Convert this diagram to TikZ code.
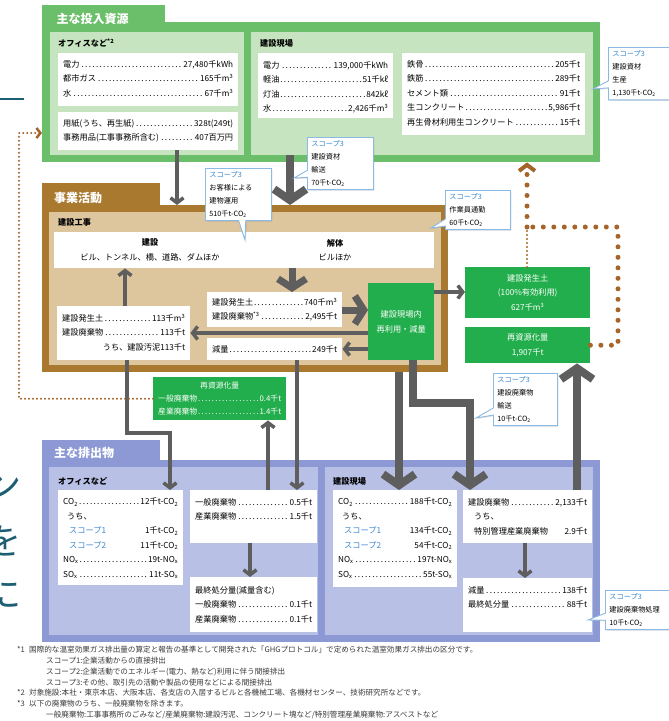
\documentclass[tikz,border=0pt]{standalone}
\usepackage{fontspec}
\setmainfont{Noto Sans CJK JP}
\usetikzlibrary{arrows.meta,shapes.callouts,shadows}
\definecolor{ingreen}{HTML}{6CBF6A}
\definecolor{inlight}{HTML}{C7E4C1}
\definecolor{actgreen}{HTML}{22AE4C}
\definecolor{bizbrown}{HTML}{A8792F}
\definecolor{biztan}{HTML}{DDC69E}
\definecolor{outblue}{HTML}{8C99D5}
\definecolor{outlight}{HTML}{B8C0E6}
\definecolor{flowgray}{HTML}{5E5E5E}
\definecolor{dotbrown}{HTML}{A5652A}
\definecolor{calloutline}{HTML}{8DBAE3}
\definecolor{scopeblue}{HTML}{3C88CF}
\definecolor{edgeteal}{HTML}{1D5E72}
\definecolor{notegray}{HTML}{3A3A3A}
\newcommand\dfont{\fontsize{8.2}{14.5}\selectfont}
\newcommand\cfont{\fontsize{7.2}{13}\selectfont}

\begin{document}
\begin{tikzpicture}[
    x=1pt, y=-1pt, font=\dfont,
    area/.style={inner sep=0pt, anchor=north west},
    tab/.style={area, inner xsep=12pt, text width=94pt, align=left, text=white,
                font=\fontsize{12}{14}\selectfont\bfseries},
    wbox/.style={area, fill=white},
    gbox/.style={area, fill=actgreen, text=white, align=center},
    data/.style={inner sep=0pt, anchor=north west, align=left},
    head/.style={inner sep=0pt, anchor=west, font=\fontsize{8.2}{9}\selectfont\bfseries},
    scope3/.style={rectangle callout, draw=calloutline, line width=0.9pt, fill=white,
                   anchor=north west, align=left, font=\cfont, inner xsep=4pt, inner ysep=3pt,
                   drop shadow={opacity=0.25, shadow xshift=1pt, shadow yshift=-1pt}},
    flow/.style={draw=flowgray, line width=3.5pt, -{Straight Barb[length=5pt, width=13pt]}},
    bigflow/.style={draw=flowgray, line width=8pt, -{Straight Barb[length=11pt, width=32pt]}},
    recycle/.style={draw=dotbrown, line width=2.2pt, line cap=round, dash pattern=on 0pt off 4pt},
    bigrecycle/.style={draw=dotbrown, line width=5pt, line cap=round, dash pattern=on 0pt off 10.5pt},
    pageedge/.style={inner sep=0pt, text=edgeteal, font=\fontsize{36}{36}\selectfont},
]
\useasboundingbox[fill=white] (0,0) rectangle (669,721);
% cut-off letters of the facing page
\draw[edgeteal, line width=2.5pt] (0,99) -- (24,99);
\node[pageedge] (edgen) at (4,486) {ン};
\node[pageedge] (edgewo) at (4,541) {を};
\node[pageedge] (edgeni) at (4,594) {に};

% ---- 主な投入資源 ----
\node[area, fill=ingreen, minimum width=558, minimum height=140] (inframe) at (42,22) {};
\node[tab, fill=ingreen, minimum width=123, minimum height=27] (intab) at (42,5) {主な投入資源};
\node[area, fill=inlight, minimum width=194, minimum height=123] (inoff) at (50,32) {};
\node[area, fill=inlight, minimum width=342, minimum height=123] (insite) at (251,32) {};
\node[head] (inofft) at (58,43) {オフィスなど\textsuperscript{*2}};
\node[head] (insitet) at (260,43) {建設現場};
\node[wbox, minimum width=180, minimum height=53] (inpower) at (58,53) {};
\node[data, text width=170] (inpowert) at (63,60)
    {電力\dotfill 27,480千kWh\\ 都市ガス\dotfill 165千m\textsuperscript{3}\\ 水\dotfill 67千m\textsuperscript{3}};
\node[wbox, minimum width=180, minimum height=38] (inpaper) at (58,112) {};
\node[data, text width=170] (inpapert) at (63,119)
    {用紙(うち、再生紙)\dotfill 328t(249t)\\ 事務用品(工事事務所含む)\dotfill 407百万円};
\node[wbox, minimum width=135, minimum height=65] (inenergy) at (258,53) {};
\node[data, text width=125] (inenergyt) at (263,61)
    {電力\dotfill 139,000千kWh\\ 軽油\dotfill 51千kℓ\\ 灯油\dotfill 842kℓ\\ 水\dotfill 2,426千m\textsuperscript{3}};
\node[wbox, minimum width=183, minimum height=82] (inmat) at (402,53) {};
\node[data, text width=173] (inmatt) at (407,60)
    {鉄骨\dotfill 205千t\\ 鉄筋\dotfill 289千t\\ セメント類\dotfill 91千t\\
     生コンクリート\dotfill 5,986千t\\ 再生骨材利用生コンクリート\dotfill 15千t};

% ---- 事業活動 ----
\node[area, fill=bizbrown, minimum width=406, minimum height=167] (bizframe) at (42,205) {};
\node[tab, fill=bizbrown, minimum width=118, minimum height=29] (biztab) at (42,183) {事業活動};
\node[area, fill=biztan, minimum width=392, minimum height=153] (bizwork) at (49,212) {};
\node[head] (bizworkt) at (58,222) {建設工事};
\node[wbox, minimum width=380, minimum height=36] (worktop) at (54,232) {};
\node[align=center, inner sep=0pt] (buildt) at (150,250) {\textbf{建設}\\ビル、トンネル、橋、道路、ダムほか};
\node[align=center, inner sep=0pt] (demot) at (335,250) {\textbf{解体}\\ビルほか};
\node[wbox, minimum width=135, minimum height=35] (gen) at (207,292) {};
\node[data, text width=125] (gent) at (212,298)
    {建設発生土\dotfill 740千m\textsuperscript{3}\\ 建設廃棄物\textsuperscript{*3}\dotfill 2,495千t};
\node[wbox, minimum width=135, minimum height=22] (reduce) at (207,338) {};
\node[data, text width=125] (reducet) at (212,345) {減量\dotfill 249千t};
\node[wbox, minimum width=133, minimum height=54] (reuse) at (57,306) {};
\node[data, text width=123] (reuset) at (62,314)
    {建設発生土\dotfill 113千m\textsuperscript{3}\\ 建設廃棄物\dotfill 113千t\\ \mbox{}\hfill うち、建設汚泥113千t};
\node[gbox, minimum width=66, minimum height=77] (onsite) at (368,283) {建設現場内\\再利用・減量};
\node[gbox, minimum width=125, minimum height=51] (soil) at (465,267)
    {建設発生土\\(100\%有効利用)\\627千m\textsuperscript{3}};
\node[gbox, minimum width=125, minimum height=36] (recyc) at (465,327) {再資源化量\\1,907千t};
\node[gbox, minimum width=133, minimum height=43, text width=123,
      font=\fontsize{7.8}{13.3}\selectfont] (offrec) at (153,377)
    {再資源化量\\ 一般廃棄物\dotfill 0.4千t\\ 産業廃棄物\dotfill 1.4千t};

% ---- 主な排出物 ----
\node[area, fill=outblue, minimum width=558, minimum height=182] (outframe) at (42,460) {};
\node[tab, fill=outblue, minimum width=118, minimum height=26] (outtab) at (42,440) {主な排出物};
\node[area, fill=outlight, minimum width=269, minimum height=168] (outoff) at (49,467) {};
\node[area, fill=outlight, minimum width=268, minimum height=168] (outsite) at (325,467) {};
\node[head] (outofft) at (58,481) {オフィスなど};
\node[head] (outsitet) at (333,481) {建設現場};
\node[wbox, minimum width=125, minimum height=95] (ofco) at (58,490) {};
\node[data, text width=115] (ofcot) at (63,498)
    {CO\textsubscript{2}\dotfill 12千t-CO\textsubscript{2}\\ \hspace*{4pt}うち、\\
     \hspace*{6pt}\textcolor{scopeblue}{スコープ1}\hfill 1千t-CO\textsubscript{2}\\
     \hspace*{6pt}\textcolor{scopeblue}{スコープ2}\hfill 11千t-CO\textsubscript{2}\\
     NO\textsubscript{x}\dotfill 19t-NO\textsubscript{x}\\ SO\textsubscript{x}\dotfill 11t-SO\textsubscript{x}};
\node[wbox, minimum width=127, minimum height=53] (ofwaste) at (190,490) {};
\node[data, text width=117] (ofwastet) at (195,498)
    {一般廃棄物\dotfill 0.5千t\\ 産業廃棄物\dotfill 1.5千t};
\node[wbox, minimum width=127, minimum height=55] (offinal) at (190,577) {};
\node[data, text width=117] (offinalt) at (195,586)
    {最終処分量(減量含む)\\ 一般廃棄物\dotfill 0.1千t\\ 産業廃棄物\dotfill 0.1千t};
\node[wbox, minimum width=124, minimum height=97] (stco) at (333,490) {};
\node[data, text width=114] (stcot) at (338,498)
    {CO\textsubscript{2}\dotfill 188千t-CO\textsubscript{2}\\ \hspace*{4pt}うち、\\
     \hspace*{6pt}\textcolor{scopeblue}{スコープ1}\hfill 134千t-CO\textsubscript{2}\\
     \hspace*{6pt}\textcolor{scopeblue}{スコープ2}\hfill 54千t-CO\textsubscript{2}\\
     NO\textsubscript{x}\dotfill 197t-NO\textsubscript{x}\\ SO\textsubscript{x}\dotfill 55t-SO\textsubscript{x}};
\node[wbox, minimum width=129, minimum height=53] (stwaste) at (463,490) {};
\node[data, text width=119] (stwastet) at (468,498)
    {建設廃棄物\dotfill 2,133千t\\ \hspace*{6pt}うち、\\ \hspace*{6pt}特別管理産業廃棄物\hfill 2.9千t};
\node[wbox, minimum width=129, minimum height=54] (stfinal) at (463,578) {};
\node[data, text width=119] (stfinalt) at (468,586)
    {減量\dotfill 138千t\\ 最終処分量\dotfill 88千t};

% ---- flows ----
\draw[flow] (177,0 |- inpaper.south) -- (177,0 |- bizframe.north);
\draw[bigflow] (290,0 |- insite.south) -- (290,0 |- bizframe.north);
\draw[bigflow, line width=7pt, -{Straight Barb[length=9pt, width=28pt]}]
    (292,0 |- worktop.south) -- (292,0 |- gen.north);
\draw[bigflow, line width=7pt, -{Straight Barb[length=9pt, width=28pt]}]
    (gen.east |- 0,310) -- (onsite.west |- 0,310);
\draw[flow] (onsite.west |- 0,333) -- (reuse.east |- 0,333);
\draw[flow] (onsite.west |- 0,349) -- (reduce.east |- 0,349);
\draw[flow] (125,0 |- reuse.north) -- (125,0 |- worktop.south);
\draw[flow] (onsite.east |- 0,292) -- (soil.west |- 0,292);
\draw[flow] (127,0 |- reuse.south) -- (127,433) -- (170,433) -- (170,0 |- ofco.north);
\draw[flow] (297,0 |- reduce.south) -- (297,0 |- ofwaste.north);
\draw[flow] (268,0 |- ofwaste.north) -- (268,0 |- offrec.south);
\draw[flow] (250,0 |- ofwaste.south) -- (250,0 |- offinal.north);
\draw[bigflow] (399,0 |- bizframe.south) -- (399,0 |- stco.north);
\draw[bigflow] (413,0 |- onsite.south) -- (413,403) -- (470,403) -- (470,0 |- stwaste.north);
\draw[bigflow] (577,0 |- stwaste.north) -- (577,0 |- recyc.south);
\draw[flow] (525,0 |- stwaste.south) -- (525,0 |- stfinal.north);

% ---- recycling loops ----
\coordinate (loopturn) at (527,227);
\draw[recycle, -{Straight Barb[length=4pt, width=10pt, line width=2.5pt]}]
    (offrec.west) -- (19,0 |- offrec.west) -- (19,133) -- (inframe.west |- 0,133);
\draw[bigrecycle] (recyc.east) -- (618,0 |- recyc.east) -- (618,0 |- loopturn) -- (loopturn);
\draw[recycle] (loopturn |- soil.north) -- (loopturn);
\draw[bigrecycle, -{Straight Barb[length=6pt, width=16pt, line width=4pt]}]
    (loopturn) -- (loopturn |- inframe.south);

% ---- scope 3 callouts ----
\node[scope3, text width=62, callout absolute pointer={(593,89)}] (cprod) at (608,47)
    {\textcolor{scopeblue}{スコープ3}\\建設資材\\生産\\1,130千t-CO\textsubscript{2}};
\node[scope3, text width=58, callout absolute pointer={(245,240)}] (cuse) at (205,168)
    {\textcolor{scopeblue}{スコープ3}\\お客様による\\建物運用\\510千t-CO\textsubscript{2}};
\node[scope3, text width=58, callout absolute pointer={(294,178)}] (ctrans) at (307,137)
    {\textcolor{scopeblue}{スコープ3}\\建設資材\\輸送\\70千t-CO\textsubscript{2}};
\node[scope3, text width=57, callout absolute pointer={(431,228)}] (ccommute) at (445,190)
    {\textcolor{scopeblue}{スコープ3}\\作業員通勤\\60千t-CO\textsubscript{2}};
\node[scope3, text width=56, callout absolute pointer={(476,418)}] (cwtrans) at (493,373)
    {\textcolor{scopeblue}{スコープ3}\\建設廃棄物\\輸送\\10千t-CO\textsubscript{2}};
\node[scope3, text width=62, callout absolute pointer={(588,620)}] (cwproc) at (605,590)
    {\textcolor{scopeblue}{スコープ3}\\建設廃棄物処理\\10千t-CO\textsubscript{2}};

% ---- footnotes ----
\node[anchor=north west, inner sep=0pt, align=left, text=notegray,
      font=\fontsize{7.6}{10.8}\selectfont] (notes) at (17,646)
    {\makebox[12pt][l]{*1}国際的な温室効果ガス排出量の算定と報告の基準として開発された「GHGプロトコル」で定められた温室効果ガス排出の区分です。\\
     \hspace*{29pt}スコープ1:企業活動からの直接排出\\
     \hspace*{29pt}スコープ2:企業活動でのエネルギー(電力、熱など)利用に伴う間接排出\\
     \hspace*{29pt}スコープ3:その他、取引先の活動や製品の使用などによる間接排出\\
     \makebox[12pt][l]{*2}対象施設:本社・東京本店、大阪本店、各支店の入居するビルと各機械工場、各機材センター、技術研究所などです。\\
     \makebox[12pt][l]{*3}以下の廃棄物のうち、一般廃棄物を除きます。\\
     \hspace*{29pt}一般廃棄物:工事事務所のごみなど/産業廃棄物:建設汚泥、コンクリート塊など/特別管理産業廃棄物:アスベストなど};
\end{tikzpicture}
\end{document}
